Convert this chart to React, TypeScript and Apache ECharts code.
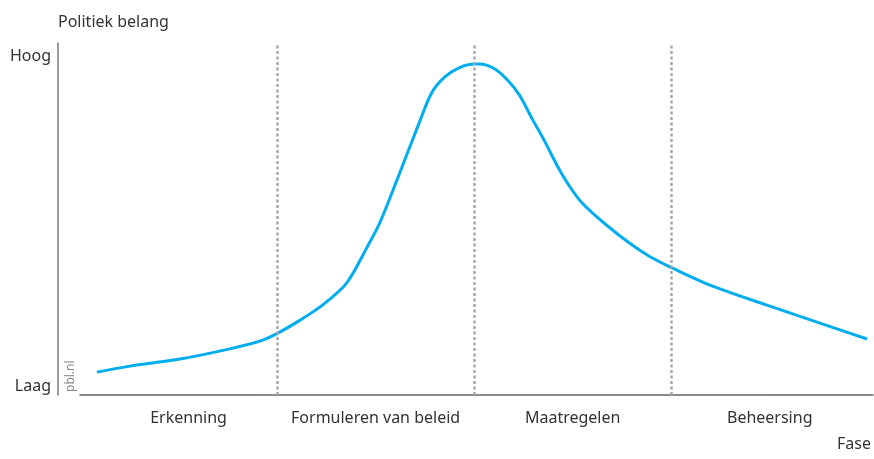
import React, { useEffect, useRef } from "react";
import * as echarts from "echarts";

const phases = ["Erkenning", "Formuleren van beleid", "Maatregelen", "Beheersing"];
const phaseBoundaries = [1, 2, 3];
const yLabels = { low: "Laag", high: "Hoog" };
const curveX = [
  0.086, 0.253, 0.507, 0.76, 0.912, 1.004, 1.115, 1.232, 1.353, 1.455, 1.521, 1.612,
  1.723, 1.784, 1.85, 1.926, 2.002, 2.027, 2.103, 2.169, 2.23, 2.296, 2.357, 2.423,
  2.484, 2.549, 2.671, 2.788, 2.904, 3.005, 3.193, 3.482, 3.751, 3.994,
];
const curveY = [
  0.065, 0.082, 0.102, 0.131, 0.153, 0.176, 0.212, 0.256, 0.318, 0.418, 0.489, 0.616,
  0.776, 0.858, 0.903, 0.93, 0.94, 0.94, 0.927, 0.895, 0.852, 0.783, 0.722, 0.65,
  0.593, 0.545, 0.483, 0.432, 0.389, 0.361, 0.313, 0.256, 0.205, 0.159,
];

const FONT = "'Noto Sans', sans-serif";
const TEXT = "#333";
const FS = 16;

export default function App() {
  const ref = useRef<HTMLDivElement>(null);
  useEffect(() => {
    if (!ref.current) return;
    const chart = echarts.init(ref.current, null, { renderer: "svg" });
    chart.setOption({
      animation: false,
      textStyle: { fontFamily: FONT },
      grid: { left: 80, right: 0, top: 43, bottom: 64 },
      xAxis: {
        type: "value",
        min: 0,
        max: 4.024,
        interval: 0.5,
        name: "Fase",
        nameLocation: "end",
        nameGap: -2,
        nameTextStyle: {
          color: TEXT,
          fontSize: FS,
          fontFamily: FONT,
          align: "right",
          verticalAlign: "top",
          padding: [40, 0, 0, 0],
        },
        axisLine: { show: true, onZero: false, lineStyle: { color: "#666", width: 1.5 } },
        axisTick: { show: false },
        splitLine: { show: false },
        axisLabel: {
          color: TEXT,
          fontSize: FS,
          fontFamily: FONT,
          margin: 14,
          showMaxLabel: false,
          formatter: (v: number) => {
            const i = Math.round(v - 0.5);
            if (Math.abs(v - 0.5 - i) < 1e-6 && i >= 0 && i < phases.length) {
              return i === 0 ? "{f|" + phases[i] + "}" : phases[i];
            }
            return "";
          },
          rich: {
            f: { color: TEXT, fontSize: FS, fontFamily: FONT, padding: [0, 0, 0, 20] },
          },
        },
      },
      yAxis: {
        type: "value",
        min: 0,
        max: 1,
        interval: 1,
        offset: 22,
        name: "Politiek belang",
        nameLocation: "end",
        nameGap: 14,
        nameTextStyle: { color: TEXT, fontSize: FS, fontFamily: FONT, align: "left" },
        axisLine: { show: true, onZero: false, lineStyle: { color: "#777", width: 1.5 } },
        axisTick: { show: false },
        splitLine: { show: false },
        axisLabel: {
          color: TEXT,
          fontSize: FS,
          fontFamily: FONT,
          margin: 7,
          formatter: (v: number) => (v >= 1 ? "{h|" + yLabels.high + "}" : "{l|" + yLabels.low + "}"),
          rich: {
            h: { color: TEXT, fontSize: FS, fontFamily: FONT, padding: [24, 0, 0, 0] },
            l: { color: TEXT, fontSize: FS, fontFamily: FONT, padding: [0, 0, 20, 0] },
          },
        },
      },
      graphic: [
        {
          type: "text",
          x: 75,
          y: 392,
          rotation: Math.PI / 2,
          style: { text: "pbl.nl", fill: "#888", font: "12px " + FONT, textAlign: "left", textVerticalAlign: "bottom" },
        },
      ],
      series: [
        {
          type: "line",
          data: curveX.map((x, i) => [x, curveY[i]]),
          smooth: 0.3,
          showSymbol: false,
          lineStyle: { color: "#00ADEE", width: 3 },
          markLine: {
            silent: true,
            symbol: "none",
            label: { show: false },
            lineStyle: { color: "#A8A8A8", width: 2.5, type: [3, 2.5] },
            data: phaseBoundaries.map((b) => ({ xAxis: b })),
          },
        },
      ],
    });
    return () => chart.dispose();
  }, []);
  return <div ref={ref} style={{ position: "fixed", left: 0, top: 0, width: 874, height: 459 }} />;
}
